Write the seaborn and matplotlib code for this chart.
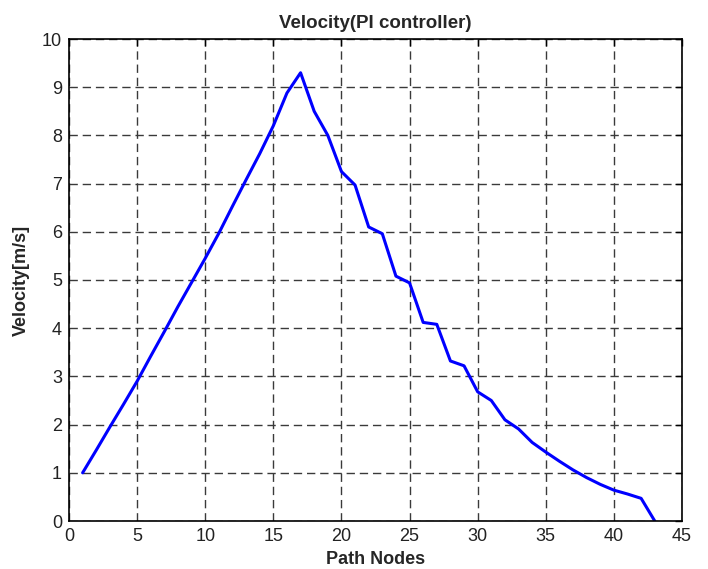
import matplotlib
matplotlib.use("Agg")
import matplotlib.pyplot as plt
import seaborn as sns
import pandas as pd
import numpy as np

nodes = list(range(1, 44))
velocity = [1.0, 1.47, 1.95, 2.42, 2.9, 3.42, 3.93, 4.45, 4.95, 5.45,
            5.97, 6.53, 7.08, 7.62, 8.2, 8.88, 9.3, 8.5, 8.0, 7.25,
            6.97, 6.1, 5.96, 5.08, 4.94, 4.12, 4.08, 3.32, 3.22, 2.68,
            2.5, 2.1, 1.91, 1.63, 1.43, 1.24, 1.06, 0.9, 0.76, 0.64,
            0.56, 0.47, 0.0]
xticks = [0, 5, 10, 15, 20, 25, 30, 35, 40, 45]
yticks = [0, 1, 2, 3, 4, 5, 6, 7, 8, 9, 10]

sns.set_style("white")
plt.rcParams['font.family'] = ['Liberation Sans', 'DejaVu Sans']

df = pd.DataFrame({"node": nodes, "v": velocity})

fig = plt.figure(figsize=(7.08, 5.69), dpi=100)
ax = fig.add_axes([69/708, 1-521/569, (682-69)/708, (521-39)/569])
sns.lineplot(data=df, x="node", y="v", ax=ax, color="#0000ff", linewidth=2.2)

ax.set_xlim(0, 45)
ax.set_ylim(0, 10)
ax.set_xticks(xticks)
ax.set_yticks(yticks)
ax.set_xticklabels([str(t) for t in xticks], fontsize=13)
ax.set_yticklabels([str(t) for t in yticks], fontsize=13)
ax.tick_params(direction="in", length=5, width=1, colors="black", top=True, right=True,
               labelcolor="#222222", pad=5)
ax.grid(True, linestyle=(0, (6, 3.5)), color="#3a3a3a", linewidth=1)
for s in ax.spines.values():
    s.set_color("black")
    s.set_linewidth(1.2)

ax.set_title("Velocity(PI controller)", fontsize=13.5, fontweight="bold", pad=8)
ax.set_xlabel("Path Nodes", fontsize=13, fontweight="bold", labelpad=4)
ax.set_ylabel("Velocity[m/s]", fontsize=13, fontweight="bold", labelpad=9)

fig.savefig("out.png", dpi=100)
